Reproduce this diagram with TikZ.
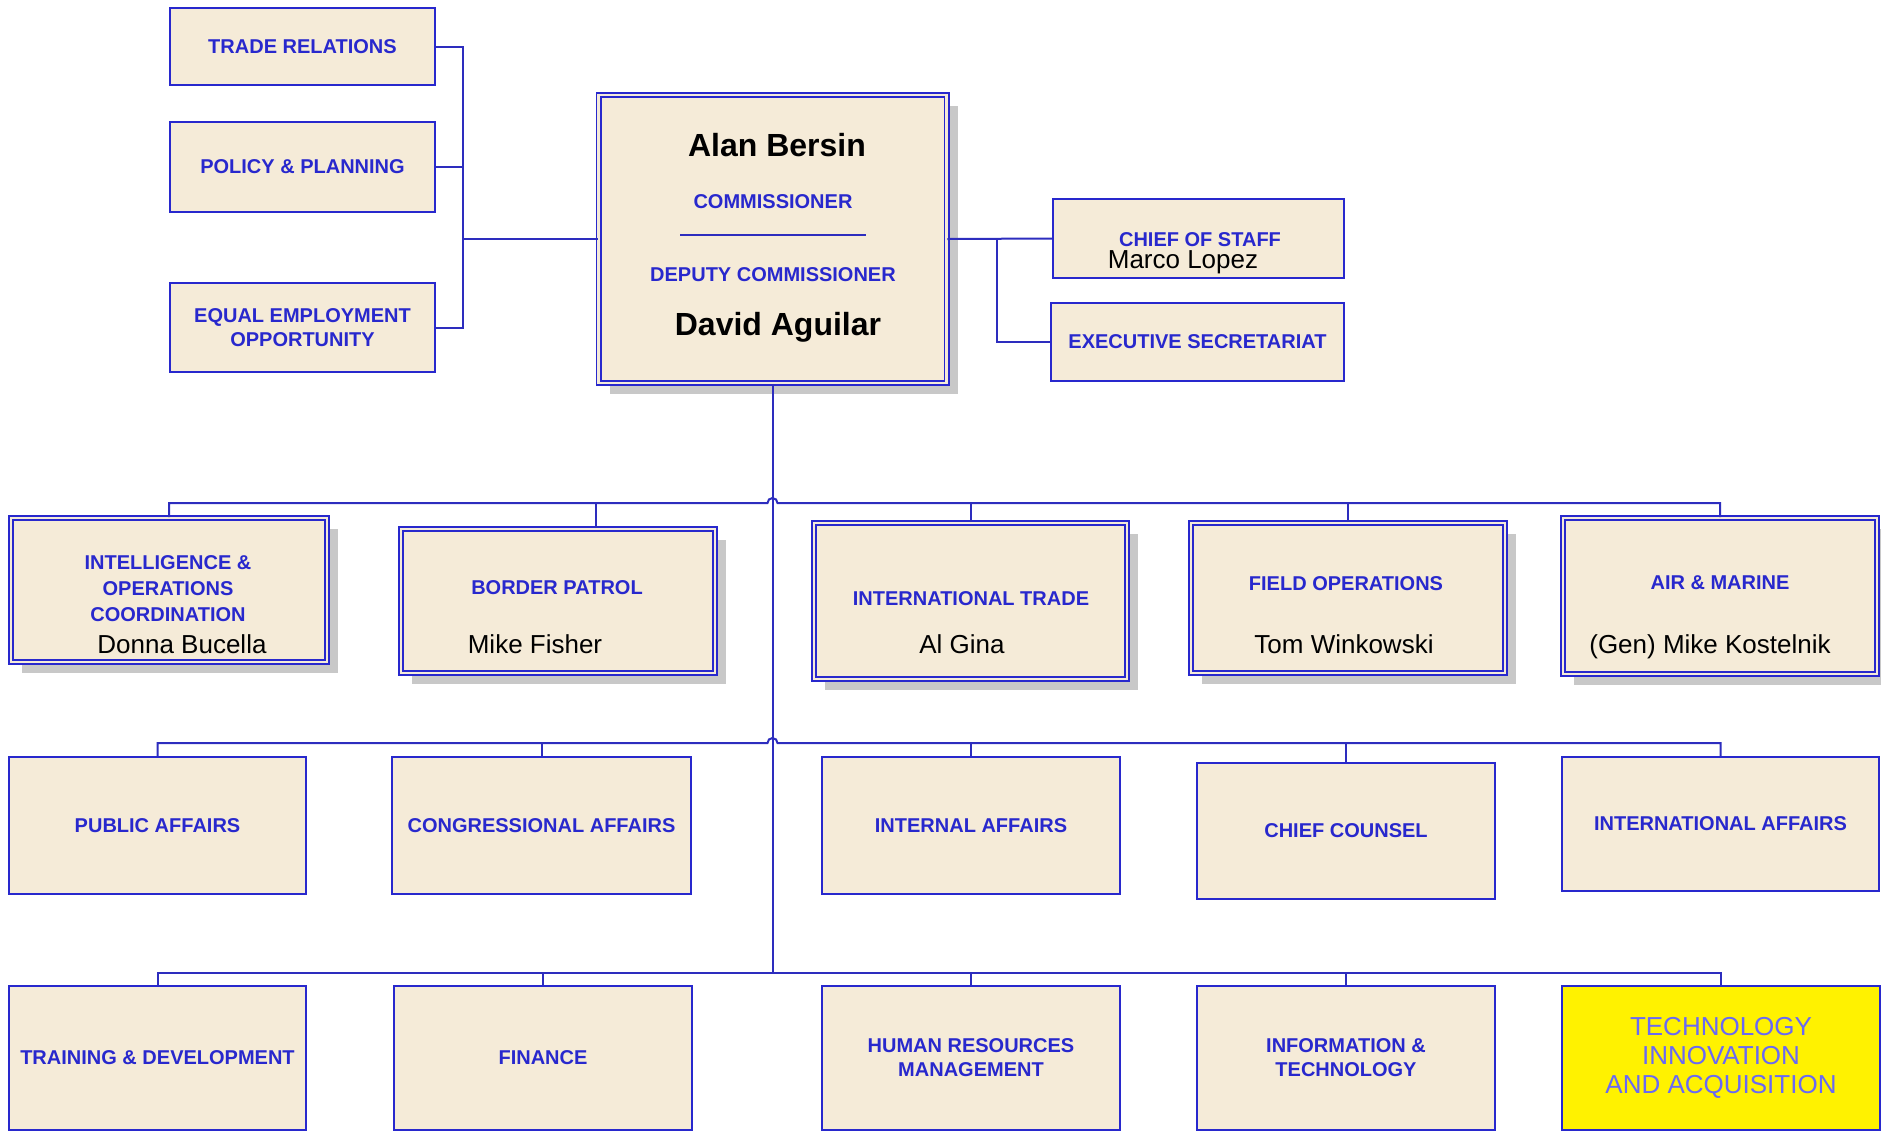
\documentclass[tikz,border=0pt]{standalone}
\usepackage{fontspec}
\setmainfont{Liberation Sans}
\usetikzlibrary{positioning,shadows}

\definecolor{cbpBlue}{RGB}{40,40,205}
\definecolor{cbpLine}{RGB}{45,45,190}
\definecolor{cbpTan}{RGB}{245,235,216}
\definecolor{cbpShade}{RGB}{200,200,200}
\definecolor{cbpLight}{RGB}{105,105,245}

\begin{document}
\begin{tikzpicture}[x=0.5pt, y=-0.5pt,
        %Styles
        unit/.style={
            draw=cbpBlue, fill=cbpTan, line width=1pt,
            inner sep=0pt, align=center, text=cbpBlue,
            font=\bfseries\fontsize{10}{12}\selectfont,
        },
        office/.style={
            unit, double=cbpTan, double distance=1.4pt, line width=0.8pt,
            drop shadow={shadow xshift=5.5pt, shadow yshift=-5.5pt, fill=cbpShade, opacity=1},
        },
        dim/.style 2 args={minimum width=#1*0.5pt, minimum height=#2*0.5pt},
        title/.style={inner sep=0pt, align=center, text=cbpBlue,
            font=\bfseries\fontsize{10}{13}\selectfont},
        person/.style={inner sep=0pt, anchor=base, font=\fontsize{13}{15}\selectfont},
        chief/.style={inner sep=0pt, anchor=base, font=\bfseries\fontsize{16}{19}\selectfont},
        link/.style={draw=cbpLine, line width=1pt},
    ]

\useasboundingbox (0,0) rectangle (1881,1131);

%commissioner and staff
\node[office, dim={348}{288}] (comm) at (772.5,239) {};
\node[unit, dim={265}{77}] (tr) at (302.5,46.5) {TRADE RELATIONS};
\node[unit, dim={265}{90}] (pp) at (302.5,167) {POLICY \& PLANNING};
\node[unit, dim={265}{89}] (eeo) at (302.5,327.5) {EQUAL EMPLOYMENT\\OPPORTUNITY};
\node[unit, dim={291}{79}] (cos) at (1198.5,238.5) {};
\node[unit, dim={293}{78}] (exs) at (1197.5,342) {EXECUTIVE SECRETARIAT};

\node[chief] (commName) at (777,156.5) {Alan Bersin};
\node[title] (commT) at (773,202) {COMMISSIONER};
\draw[link] (680,235) -- (866,235);
\node[title] (depT) at (773,275) {DEPUTY COMMISSIONER};
\node[chief] (depName) at (778,335) {David Aguilar};
\node[title] (cosT) at (1200,240) {CHIEF OF STAFF};
\node[person] (cosName) at (1183,268) {Marco Lopez};

%offices (row 1)
\node[office, dim={316}{144}] (io) at (169,590) {};
\node[office, dim={314}{144}] (bp) at (558,601) {};
\node[office, dim={313}{156}] (it) at (970.5,601) {};
\node[office, dim={314}{150}] (fo) at (1348,598) {};
\node[office, dim={314}{156}] (am) at (1720,596) {};

\node[title] (ioT) at (168,589) {INTELLIGENCE \&\\OPERATIONS\\COORDINATION};
\node[person] (ioName) at (182,653) {Donna Bucella};
\node[title] (bpT) at (557,588) {BORDER PATROL};
\node[person] (bpName) at (535,653) {Mike Fisher};
\node[title] (itT) at (971,599) {INTERNATIONAL TRADE};
\node[person] (itName) at (962,653) {Al Gina};
\node[title] (foT) at (1346,584) {FIELD OPERATIONS};
\node[person] (foName) at (1344,653) {Tom Winkowski};
\node[title] (amT) at (1720,583) {AIR \& MARINE};
\node[person] (amName) at (1710,653) {(Gen) Mike Kostelnik};

%support offices (row 2)
\node[unit, dim={297}{137}] (pa) at (157.5,825.5) {PUBLIC AFFAIRS};
\node[unit, dim={299}{137}] (ca) at (541.5,825.5) {CONGRESSIONAL AFFAIRS};
\node[unit, dim={298}{137}] (ia) at (971,825.5) {INTERNAL AFFAIRS};
\node[unit, dim={298}{136}] (cc) at (1346,831) {CHIEF COUNSEL};
\node[unit, dim={317}{134}] (intl) at (1720.5,824) {INTERNATIONAL AFFAIRS};

%support offices (row 3)
\node[unit, dim={297}{144}] (td) at (157.5,1058) {TRAINING \& DEVELOPMENT};
\node[unit, dim={298}{144}] (fin) at (543,1058) {FINANCE};
\node[unit, dim={298}{144}] (hrm) at (971,1058) {HUMAN RESOURCES\\MANAGEMENT};
\node[unit, dim={298}{144}] (itc) at (1346,1058) {INFORMATION \&\\TECHNOLOGY};
\node[unit, dim={318}{144}, fill=yellow, text=cbpLight,
      font=\fontsize{13}{14.5}\selectfont] (tia) at (1721,1058)
      {TECHNOLOGY\\INNOVATION\\AND ACQUISITION};

%connectors
\coordinate (lbus) at (463,239);
\coordinate (rbus) at (997,239);
\coordinate (hopA) at (772.5,503);
\coordinate (hopB) at (772.5,743);
\coordinate (busC) at (772.5,973);

\draw[link] (tr.east) -| (lbus) |- (eeo.east);
\draw[link] (pp.east) -| (lbus);
\draw[link, line width=1.4pt] (lbus) -- (comm.west);
\draw[link] (comm.east) -- (cos.west);
\draw[link] (rbus) |- (exs.west);

\draw[link] (comm.south) -- (busC);

\draw[link] (io.north) |- ([xshift=-2.5pt]hopA) arc[start angle=180, end angle=0, radius=2.5pt] -| (am.north);
\draw[link] ([xshift=19pt]bp.north) -- ([xshift=19pt]bp.north |- hopA);
\foreach \n in {it,fo}
  \draw[link] (\n.north) -- (\n.north |- hopA);

\draw[link] (pa.north) |- ([xshift=-2.5pt]hopB) arc[start angle=180, end angle=0, radius=2.5pt] -| (intl.north);
\foreach \n in {ca,ia,cc}
  \draw[link] (\n.north) -- (\n.north |- hopB);

\draw[link] (td.north) |- (busC) -| (tia.north);
\foreach \n in {fin,hrm,itc}
  \draw[link] (\n.north) -- (\n.north |- busC);

\end{tikzpicture}
\end{document}
